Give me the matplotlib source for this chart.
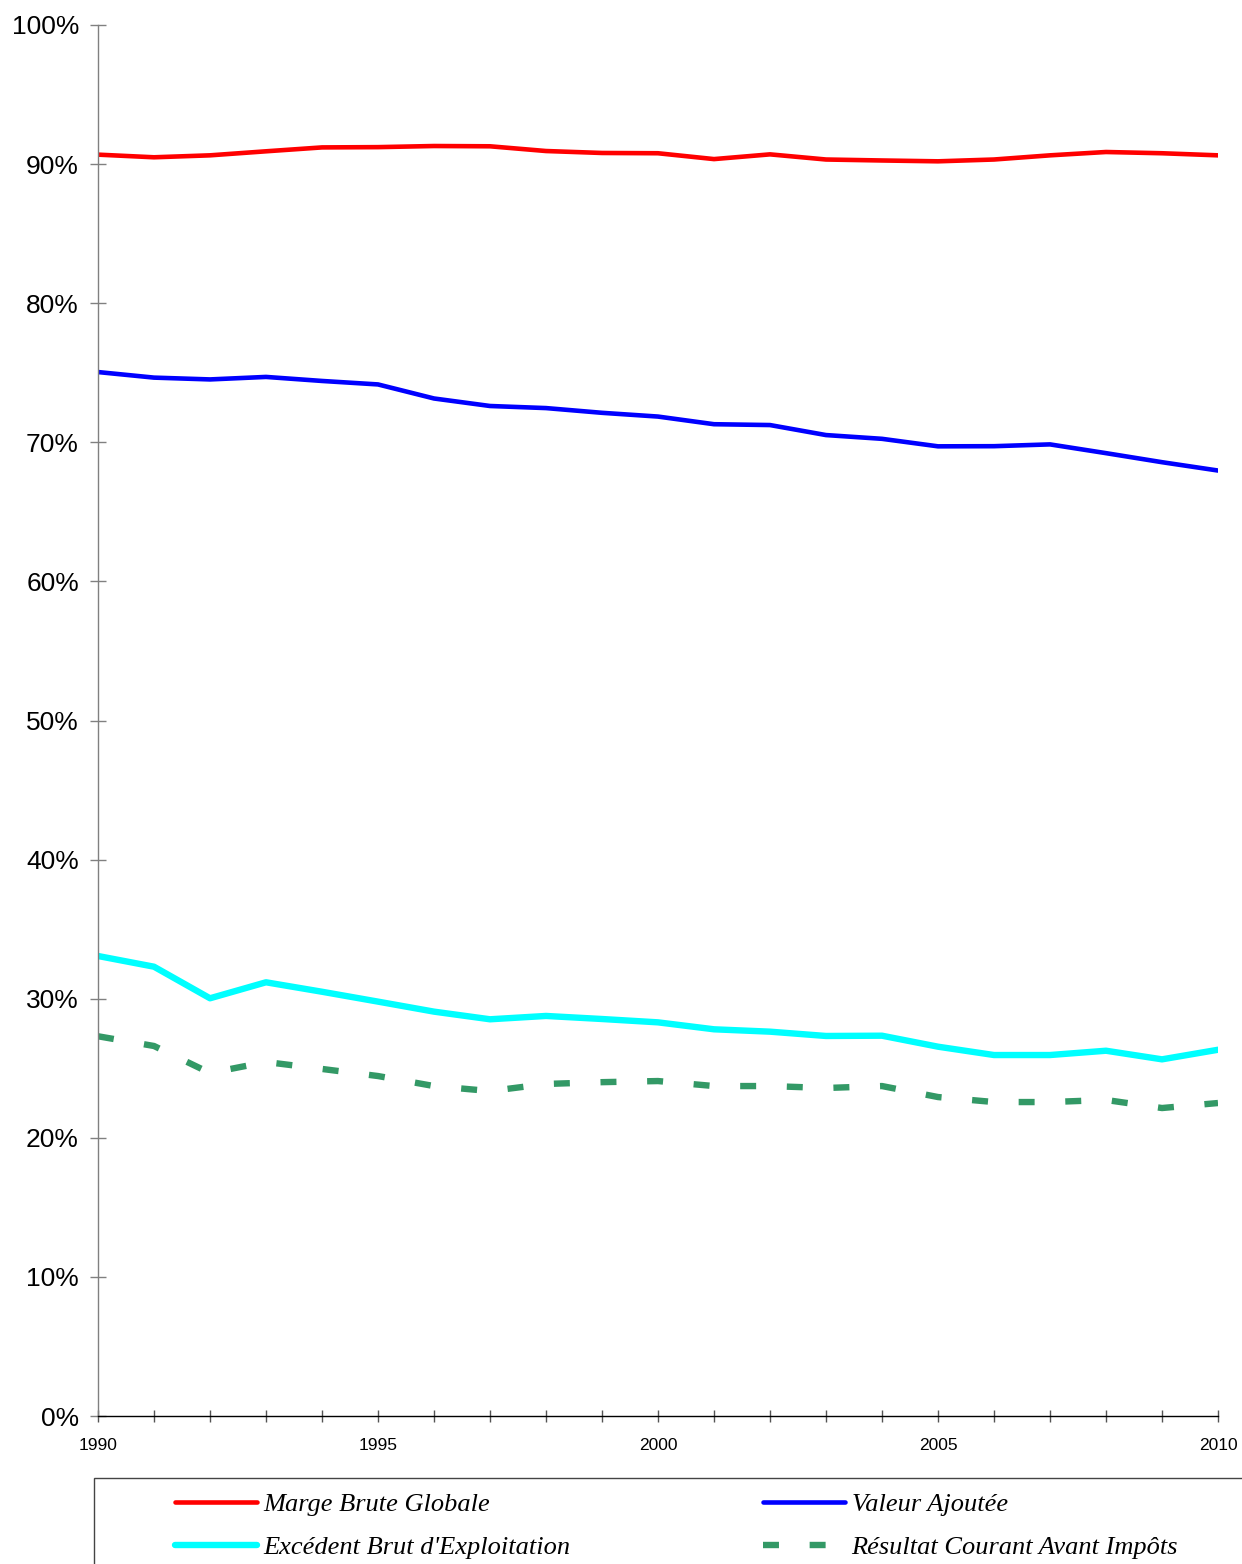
import numpy as np
import matplotlib.pyplot as plt
from matplotlib.patches import Rectangle
from matplotlib.ticker import PercentFormatter

# =========================
# Data
# =========================
years = list(range(1990, 2011))

marge_brute = [90.68, 90.49, 90.63, 90.92, 91.20, 91.22, 91.30, 91.28, 90.94, 90.80, 90.78,
               90.36, 90.70, 90.33, 90.26, 90.20, 90.33, 90.63, 90.87, 90.78, 90.63]
valeur_ajoutee = [75.05, 74.65, 74.52, 74.70, 74.41, 74.16, 73.15, 72.61, 72.46, 72.12, 71.85,
                  71.30, 71.24, 70.52, 70.25, 69.71, 69.72, 69.85, 69.22, 68.57, 67.97]
ebe = [33.07, 32.30, 30.03, 31.18, 30.50, 29.79, 29.07, 28.52, 28.76, 28.54, 28.30,
       27.80, 27.63, 27.32, 27.34, 26.55, 25.95, 25.95, 26.26, 25.64, 26.33]
rcai = [27.30, 26.60, 24.66, 25.45, 24.95, 24.44, 23.72, 23.36, 23.87, 24.00, 24.08,
        23.72, 23.72, 23.58, 23.72, 22.93, 22.57, 22.57, 22.72, 22.14, 22.50]

labels = ["Marge Brute Globale", "Valeur Ajoutée",
          "Excédent Brut d'Exploitation", "Résultat Courant Avant Impôts"]
year_labels = ["1990", "1995", "2000", "2005", "2010"]

# =========================
# Figure
# =========================
W, H = 1242, 1564
fig = plt.figure(figsize=(W / 100, H / 100), dpi=100)
ax = fig.add_axes([98 / W, 1 - 1416 / H, (1218 - 98) / W, (1416 - 25) / H])

l1, = ax.plot(years, marge_brute, color="#FF0000", lw=3.3, solid_capstyle="round", solid_joinstyle="round")
l2, = ax.plot(years, valeur_ajoutee, color="#0000FF", lw=3.3, solid_capstyle="round", solid_joinstyle="round")
l3, = ax.plot(years, ebe, color="#00FFFF", lw=4.6, solid_capstyle="round", solid_joinstyle="round")
l4, = ax.plot(years, rcai, color="#339966", lw=4.6, dashes=(2.5, 4.8), dash_capstyle="butt")

ax.set_xlim(1990, 2010)
ax.set_ylim(0, 100)
ax.set_yticks(np.arange(0, 101, 10))
ax.yaxis.set_major_formatter(PercentFormatter(decimals=0))
ax.set_xticks(years)
ax.set_xticklabels([str(y) if str(y) in year_labels else "" for y in years])

for s in ["top", "right"]:
    ax.spines[s].set_visible(False)
ax.spines["left"].set_color("#808080")
ax.spines["bottom"].set_color("black")
ax.spines["left"].set_linewidth(1.0)
ax.spines["bottom"].set_linewidth(1.0)

ax.tick_params(axis="y", direction="inout", length=11.5, width=1.0, color="#808080",
               pad=8, labelsize=19, labelfontfamily="Liberation Sans")
ax.tick_params(axis="x", direction="inout", length=8, width=1.0, color="#555555",
               pad=12, labelsize=12.5, labelfontfamily="Liberation Sans")
ax.set_facecolor("white")

# =========================
# Legend (frame runs off the figure edge)
# =========================
fig.patches.append(Rectangle((94 / W, -0.05), 1.1, (1564 - 1478) / H + 0.05,
                             transform=fig.transFigure, fill=False,
                             edgecolor="#444444", lw=1.0, clip_on=False))

# column-wise fill -> order so rows read Marge/Valeur then EBE/RCAI
fig.legend([l1, l3, l2, l4], [labels[0], labels[2], labels[1], labels[3]],
           ncol=2, loc="upper left",
           bbox_to_anchor=(175 / W, 1 - 1493 / H), frameon=False,
           prop={"family": "Liberation Serif", "style": "italic", "size": 19},
           handlelength=3.1, handletextpad=0.25, columnspacing=7.3,
           labelspacing=0.72, borderpad=0, borderaxespad=0)

fig.savefig("out.png", dpi=100, facecolor="white")
